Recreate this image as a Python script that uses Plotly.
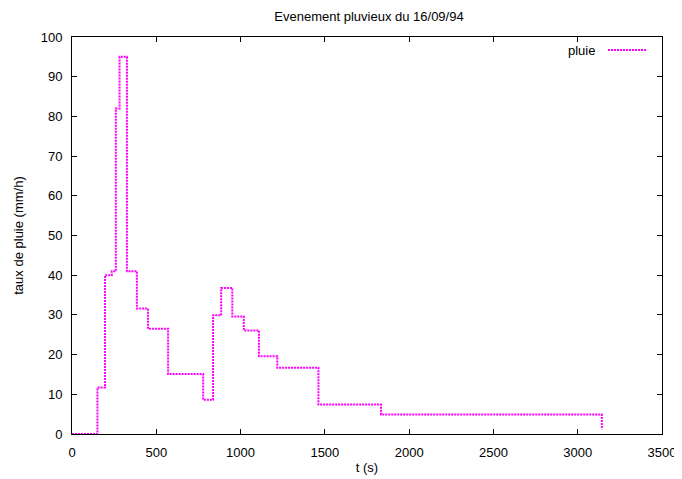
import plotly.graph_objects as go

# Data: step function (time in s, rain rate in mm/h); each value holds until the next time
t_s = [0, 151, 196, 236, 260, 282, 326, 385, 451, 570, 778, 837, 885, 951, 1019, 1109, 1218, 1462, 1833, 3143]
rate_mmh = [0, 11.7, 40, 41, 82, 95, 41, 31.6, 26.5, 15.1, 8.6, 29.9, 36.8, 29.6, 26.1, 19.6, 16.7, 7.4, 4.9, 1.2]

x_ticks = [0, 500, 1000, 1500, 2000, 2500, 3000, 3500]
y_ticks = [0, 10, 20, 30, 40, 50, 60, 70, 80, 90, 100]

LINE_COLOR = "#ff00ff"
FONT = "Liberation Sans, Arial, sans-serif"
FS = 13

# the page body has an 8px margin, so the figure is drawn 8px in from the corner
OFF = 8
W, H = 682 - OFF, 479 - OFF

fig = go.Figure()
fig.add_trace(go.Scatter(
    x=t_s, y=rate_mmh, mode="lines", name="pluie",
    line=dict(shape="hv", color=LINE_COLOR, width=2, dash="2px,1px"),
    showlegend=False,
))

axis_common = dict(
    showgrid=False, zeroline=False, showline=True, linecolor="black", linewidth=1,
    mirror="ticks", ticks="inside", ticklen=5, tickcolor="black", tickwidth=1,
    tickfont=dict(family=FONT, size=FS, color="black"), automargin=False,
)

fig.update_layout(
    width=W, height=H,
    margin=dict(l=72 - OFF, r=20, t=37 - OFF, b=45),
    paper_bgcolor="white", plot_bgcolor="white",
    font=dict(family=FONT, size=FS, color="black"),
    title=dict(text="Evenement pluvieux du 16/09/94", x=(369 - OFF) / W, xanchor="center",
               y=1 - (16 - OFF) / H, yanchor="middle", yref="container",
               font=dict(family=FONT, size=FS, color="black")),
    xaxis=dict(range=[0, 3500], tickvals=x_ticks, ticktext=[str(v) for v in x_ticks],
               title=dict(text="t (s)", standoff=4, font=dict(family=FONT, size=FS)),
               ticklabelstandoff=6, **axis_common),
    yaxis=dict(range=[0, 100], tickvals=y_ticks, ticktext=[str(v) for v in y_ticks],
               title=dict(text="taux de pluie (mm/h)", standoff=14, font=dict(family=FONT, size=FS)),
               ticklabelstandoff=6, **axis_common),
    showlegend=False,
)

# Legend (gnuplot style: label then sample line)
fig.add_annotation(text="pluie", xref="paper", yref="paper",
                   x=(597 - 72) / 590, y=(434 - 50.5) / 397, xanchor="right", yanchor="middle",
                   showarrow=False, font=dict(family=FONT, size=FS, color="black"))
fig.add_shape(type="line", xref="paper", yref="paper",
              x0=(608 - 72) / 590, x1=(646 - 72) / 590,
              y0=(434 - 50) / 397, y1=(434 - 50) / 397,
              line=dict(color=LINE_COLOR, width=2, dash="2px,1px"))

fig.write_html("out.html")
